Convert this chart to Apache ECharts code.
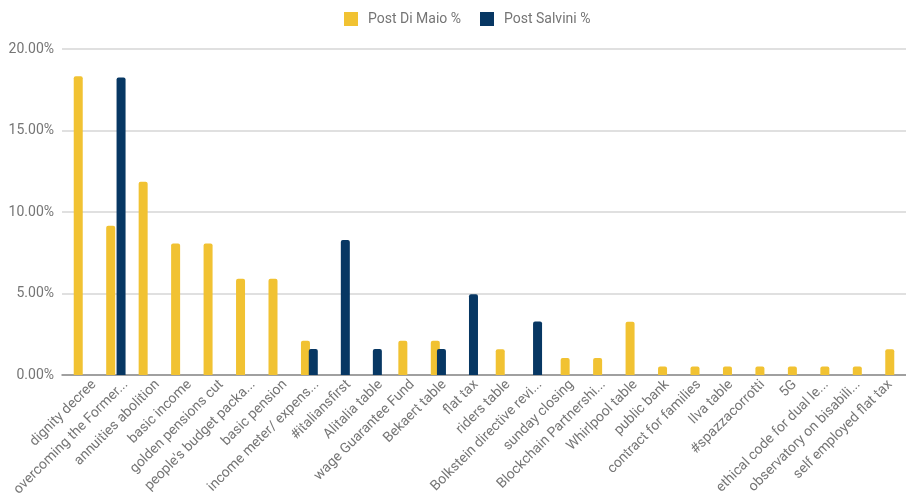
<!DOCTYPE html>
<html>
<head>
<meta charset="utf-8">
<script src="https://cdn.jsdelivr.net/npm/echarts@6/dist/echarts.min.js"></script>
<style>
  html, body { margin: 0; padding: 0; background: #fff; }
  #chart { width: 906px; height: 499px; }
</style>
</head>
<body>
<div id="chart"></div>
<script>
// Topic categories shown along the x axis
const categories = [
  'dignity decree', 'overcoming the Former...', 'annuities abolition', 'basic income',
  'golden pensions cut', "people's budget packa...", 'basic pension', 'income meter/ expens...',
  '#italiansfirst', 'Alitalia table', 'wage Guarantee Fund', 'Bekaert table', 'flat tax',
  'riders table', 'Bolkstein directive revi...', 'sunday closing', 'Blockchain Partnershi...',
  'Whirlpool table', 'public bank', 'contract for families', 'Ilva table', '#spazzacorrotti',
  '5G', 'ethical code for dual le...', 'observatory on bisabili...', 'self employed flat tax'
];

// Share of posts per topic (percent); null = no posts on that topic
const postDiMaio = [
  18.33, 9.16, 11.85, 8.07, 8.07, 5.9, 5.9, 2.1, null, null, 2.1, 2.1, null,
  1.58, null, 1.05, 1.05, 3.26, 0.52, 0.52, 0.52, 0.52, 0.52, 0.52, 0.52, 1.58
];
const postSalvini = [
  null, 18.25, null, null, null, null, null, 1.6, 8.28, 1.6, null, 1.6, 4.95,
  null, 3.28, null, null, null, null, null, null, null, null, null, null, null
];

const yTicks = { min: 0, max: 20, interval: 5 };

const gray = '#757575';
const font = 'Roboto';

const chart = echarts.init(document.getElementById('chart'), null, { renderer: 'canvas' });

const gridBase = { top: 49, bottom: 124 };

// grid 0: main plot (yellow bars, value axis, baseline)
// grid 1: same plot shifted right so the second series sits beside the first
// grid 2: category labels, slanted
const valueAxisHidden = (i) => ({
  type: 'value', gridIndex: i,
  min: yTicks.min, max: yTicks.max, interval: yTicks.interval,
  show: false
});
const categoryAxisHidden = (i) => ({
  type: 'category', gridIndex: i, data: categories,
  axisLine: { show: false }, axisTick: { show: false },
  axisLabel: { show: false }, splitLine: { show: false }
});

chart.setOption({
  animation: false,
  textStyle: { fontFamily: font },
  legend: {
    top: 7,
    left: 339,
    icon: 'rect',
    itemWidth: 14,
    itemHeight: 14,
    itemGap: 19,
    textStyle: { color: gray, fontSize: 14, fontFamily: font, padding: [0, 0, 0, 5] },
    data: ['Post Di Maio %', 'Post Salvini %']
  },
  grid: [
    Object.assign({ left: 62, right: 0 }, gridBase),
    Object.assign({ left: 73, right: -11 }, gridBase),
    Object.assign({ left: 78, right: -11 }, gridBase)
  ],
  xAxis: [
    {
      type: 'category', gridIndex: 0, data: categories,
      axisLine: { lineStyle: { color: '#8a8a8a', width: 1.5 } },
      axisTick: { show: false },
      axisLabel: { show: false },
      splitLine: { show: false }
    },
    categoryAxisHidden(1),
    {
      type: 'category', gridIndex: 2, data: categories,
      axisLine: { show: false },
      axisTick: { show: false },
      axisLabel: {
        interval: 0, rotate: 45, margin: 13,
        color: gray, fontSize: 14, fontFamily: font
      },
      splitLine: { show: false }
    }
  ],
  yAxis: [
    {
      type: 'value', gridIndex: 0,
      min: yTicks.min, max: yTicks.max, interval: yTicks.interval,
      axisLine: { show: false },
      axisTick: { show: false },
      axisLabel: {
        color: gray, fontSize: 14, fontFamily: font, margin: 8,
        formatter: v => v.toFixed(2) + '%'
      },
      splitLine: { lineStyle: { color: '#d6d6d6', width: 1.5 } }
    },
    valueAxisHidden(1),
    valueAxisHidden(2)
  ],
  series: [
    {
      name: 'Post Di Maio %', type: 'bar',
      xAxisIndex: 0, yAxisIndex: 0,
      data: postDiMaio,
      barWidth: 9,
      itemStyle: { color: '#f1c232', borderRadius: [2, 2, 0, 0] }
    },
    {
      name: 'Post Salvini %', type: 'bar',
      xAxisIndex: 1, yAxisIndex: 1,
      data: postSalvini,
      barWidth: 9,
      itemStyle: { color: '#073763', borderRadius: [2, 2, 0, 0] }
    }
  ]
});
</script>
</body>
</html>
